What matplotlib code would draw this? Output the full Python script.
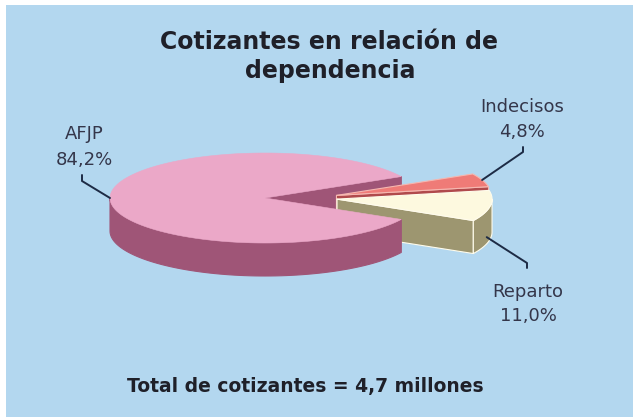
import numpy as np
import matplotlib
matplotlib.use('Agg')
import matplotlib.pyplot as plt
from matplotlib.patches import Polygon, Rectangle

# datos
labels = ['AFJP', 'Reparto', 'Indecisos']
values = [84.2, 11.0, 4.8]
explode = [0.0, 0.47, 0.49]
top_colors = ['#eba8c8', '#fdf9df', '#ef7b77']
side_colors = ['#9f5577', '#9d9670', '#b04a4c']
edge_colors = ['#eba8c8', '#fffcec', '#f5b7b0']
title_lines = ['Cotizantes en relación de', 'dependencia']
total_text = 'Total de cotizantes = 4,7 millones'

# geometria del pastel (pixeles)
CX, CY = 265, 198
RX, RY = 155, 45
DEPTH = 33
LIFT = 0.35   # aplanado vertical del desplazamiento de las porciones

BG = '#b3d7ef'
TXT = '#34364a'

fig = plt.figure(figsize=(6.33, 4.17), dpi=100)
fig.patch.set_facecolor('white')
ax = fig.add_axes([0, 0, 1, 1])
ax.set_xlim(0, 633)
ax.set_ylim(417, 0)
ax.axis('off')
ax.add_patch(Rectangle((6, 5), 633, 417, facecolor=BG, edgecolor='none', zorder=0))


def pt(t, off=(0, 0), z=0.0, r=1.0):
    a = np.radians(t)
    return (CX + off[0] + r * RX * np.cos(a), CY + off[1] - r * RY * np.sin(a) + z)


def front_range(t1, t2):
    # parte del borde exterior que mira al observador (180..360 grados)
    out = []
    for k in (-360, 0, 360):
        a, b = max(t1, 180 + k), min(t2, 360 + k)
        if b > a:
            out.append((a, b))
    return out


def poly(points, fc, ec, lw, z):
    ax.add_patch(Polygon(points, closed=True, facecolor=fc, edgecolor=ec,
                         linewidth=lw, joinstyle='round', zorder=z))


# angulos de cada porcion
gap = 360 * (1 - values[0] / 100)
start = gap / 2
angles = []
for v in values:
    span = 360 * v / 100
    angles.append((start, start + span))
    start += span

offsets = []
for (t1, t2), e in zip(angles, explode):
    m = np.radians((t1 + t2) / 2)
    offsets.append((e * RX * np.cos(m), -e * RY * LIFT * np.sin(m)))


def cut_face(i, t, z):
    off = offsets[i]
    c = (CX + off[0], CY + off[1])
    p = pt(t, off)
    q = pt(t, off, DEPTH)
    poly([c, p, q, (c[0], c[1] + DEPTH)], side_colors[i], edge_colors[i] if i else side_colors[i], 0.8, z)


def rim(i, z):
    t1, t2 = angles[i]
    for a, b in front_range(t1, t2):
        ts = np.linspace(a, b, 80)
        upper = [pt(t, offsets[i]) for t in ts]
        lower = [pt(t, offsets[i], DEPTH) for t in ts[::-1]]
        poly(upper + lower, side_colors[i], edge_colors[i] if i else side_colors[i], 0.8, z)


def top(i, z):
    t1, t2 = angles[i]
    off = offsets[i]
    ts = np.linspace(t1, t2, 200)
    pts = [(CX + off[0], CY + off[1])] + [pt(t, off) for t in ts]
    poly(pts, top_colors[i], edge_colors[i], 0.8 if i else 0.4, z)


# orden de dibujo: atras hacia adelante
cut_face(0, angles[0][0], 1)
cut_face(2, angles[2][0], 2)
top(2, 3)
cut_face(1, angles[1][0], 4)
rim(1, 4)
top(1, 5)
rim(0, 6)
top(0, 7)

# textos
ax.text(329, 49, title_lines[0], ha='center', va='baseline', fontsize=17,
        fontweight='bold', color='#1f2029', zorder=10)
ax.text(330, 78, title_lines[1], ha='center', va='baseline', fontsize=17,
        fontweight='bold', color='#1f2029', zorder=10)
ax.text(305, 392, total_text, ha='center', va='baseline', fontsize=13.5,
        fontweight='bold', color='#1f2029', zorder=10)

pct = [f'{v:.1f}%'.replace('.', ',') for v in values]
# posiciones de etiquetas y lineas guia
label_pos = [(84, 139, 165), (528, 297, 321), (522, 112, 137)]
anchor_angle = [180, -15, 20]
anchor_depth = [0, 0.8 * DEPTH, 0]
elbows = [[(82, 181), (82, 175)], [(527, 263), (527, 268)], [(523, 152), (523, 147)]]

for i in range(3):
    x, y1, y2 = label_pos[i]
    ax.text(x, y1, labels[i], ha='center', va='baseline', fontsize=13, color=TXT, zorder=10)
    ax.text(x, y2, pct[i], ha='center', va='baseline', fontsize=13, color=TXT, zorder=10)
    a = pt(anchor_angle[i], offsets[i], anchor_depth[i])
    path = [a] + elbows[i]
    ax.plot([p[0] for p in path], [p[1] for p in path], color='#1d2b45', lw=1.4,
            solid_capstyle='round', zorder=9)

fig.savefig('out.png', dpi=100, facecolor='white')
